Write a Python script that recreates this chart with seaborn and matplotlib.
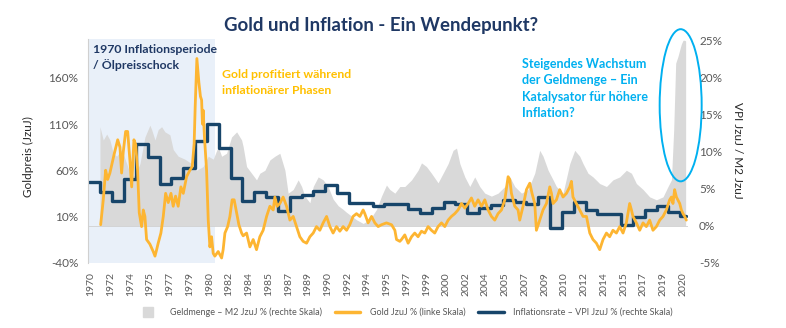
import numpy as np
import pandas as pd
import matplotlib
matplotlib.use("Agg")
import matplotlib.pyplot as plt
from matplotlib.patches import Ellipse
from matplotlib.lines import Line2D
import seaborn as sns

# ---------------- data ----------------
# chart-year positions (x axis units = years as labelled) and YoY values
gold_t = [1970.82, 1971.04, 1971.24, 1971.41, 1971.60, 1971.97, 1972.26, 1972.45, 1972.59, 1972.73,
          1972.93, 1973.10, 1973.29, 1973.44, 1973.63, 1973.78, 1973.94, 1974.08, 1974.28, 1974.42,
          1974.56, 1974.70, 1974.98, 1975.26, 1975.41, 1975.55, 1975.68, 1975.91, 1976.11, 1976.31,
          1976.53, 1976.76, 1976.95, 1977.15, 1977.37, 1977.60, 1977.80, 1978.08, 1978.36, 1978.56,
          1978.72, 1978.81, 1978.95, 1979.12, 1979.25, 1979.35, 1979.42, 1979.48, 1979.59, 1979.77,
          1979.91, 1980.05, 1980.19, 1980.33, 1980.47, 1980.75, 1981.04, 1981.17, 1981.32, 1981.55,
          1981.74, 1981.93, 1982.10, 1982.31, 1982.50, 1982.73, 1982.86, 1983.15, 1983.43, 1983.71,
          1983.99, 1984.27, 1984.55, 1984.84, 1985.12, 1985.40, 1985.54, 1985.73, 1985.96, 1986.24,
          1986.53, 1986.81, 1987.09, 1987.37, 1987.65, 1987.93, 1988.22, 1988.50, 1988.78, 1989.06,
          1989.34, 1989.62, 1989.91, 1990.19, 1990.46, 1990.75, 1991.03, 1991.31, 1991.60, 1991.87,
          1992.15, 1992.44, 1992.72, 1993.00, 1993.14, 1993.42, 1993.71, 1993.99, 1994.27, 1994.55,
          1994.97, 1995.40, 1995.68, 1995.82, 1996.10, 1996.24, 1996.52, 1996.80, 1997.09, 1997.36,
          1997.64, 1997.93, 1998.21, 1998.49, 1998.77, 1999.05, 1999.33, 1999.62, 1999.90, 2000.18,
          2000.46, 2000.74, 2001.02, 2001.31, 2001.59, 2001.87, 2002.15, 2002.43, 2002.71, 2003.00,
          2003.28, 2003.56, 2003.84, 2004.12, 2004.40, 2004.69, 2004.97, 2005.25, 2005.39, 2005.53,
          2005.81, 2006.09, 2006.23, 2006.51, 2006.80, 2007.08, 2007.27, 2007.50, 2007.64, 2007.92,
          2008.20, 2008.49, 2008.77, 2008.91, 2009.05, 2009.33, 2009.61, 2009.89, 2010.18, 2010.46,
          2010.60, 2010.73, 2011.02, 2011.30, 2011.58, 2011.87, 2012.15, 2012.42, 2012.71, 2012.99,
          2013.27, 2013.56, 2013.83, 2014.11, 2014.40, 2014.68, 2014.96, 2015.24, 2015.52, 2015.67,
          2015.80, 2016.09, 2016.37, 2016.65, 2016.93, 2017.21, 2017.49, 2017.78, 2018.06, 2018.34,
          2018.62, 2018.90, 2019.05, 2019.18, 2019.32, 2019.47, 2019.75, 2019.89, 2020.03, 2020.17,
          2020.31]
gold_v = [1, 28, 60, 50, 57, 78, 93, 85, 57, 80,
          102, 102, 71, 42, 93, 88, 60, 14, -1, 17,
          10, -15, -20, -28, -33, -26, -19, -8, 10, 35,
          25, 35, 21, 32, 21, 42, 35, 53, 60, 64,
          89, 130, 181, 155, 140, 136, 110, 125, 96, 60,
          6, -23, -12, -30, -33, -28, -35, -26, -8, -1,
          10, 28, 28, 14, 1, -8, -11, -8, -23, -15,
          -26, -12, -5, 10, 21, 17, 31, 21, 24, 31,
          21, 6, 10, -1, -12, -17, -19, -12, -8, -1,
          -5, 3, 10, -1, -8, -1, -6, -1, -5, 1,
          10, 13, 10, 17, 13, 3, 10, 3, -1, 1,
          3, 1, -5, -15, -17, -15, -10, -19, -12, -8,
          -12, -6, -8, -1, -5, -8, -1, 3, -1, 6,
          10, 13, 17, 24, 19, 24, 30, 21, 28, 21,
          28, 17, 10, 6, 13, 17, 28, 53, 50, 35,
          21, 17, 6, 21, 39, 46, 35, 24, -5, 6,
          17, 24, 42, 35, 24, 28, 39, 31, 35, 42,
          48, 31, 24, 17, 10, 10, -8, -15, -19, -26,
          -15, -8, -12, -5, -8, -1, -8, 3, 24, 17,
          10, 3, -5, 3, -1, 6, -5, -1, 6, 10,
          17, 28, 31, 24, 39, 31, 24, 17, 13, 10,
          6]

m2_t = [1970.76, 1971.04, 1971.33, 1971.60, 1971.88, 1972.17, 1972.59, 1973.02, 1973.29, 1973.72,
        1974.14, 1974.56, 1974.98, 1975.13, 1975.41, 1975.68, 1975.97, 1976.25, 1976.67, 1976.95,
        1977.37, 1977.94, 1978.50, 1978.93, 1979.48, 1979.91, 1980.33, 1980.75, 1981.04, 1981.46,
        1981.88, 1982.31, 1982.73, 1982.86, 1983.15, 1983.57, 1983.99, 1984.27, 1984.70, 1985.12,
        1985.54, 1985.96, 1986.39, 1986.66, 1987.09, 1987.51, 1987.80, 1988.07, 1988.50, 1988.78,
        1989.20, 1989.62, 1990.04, 1990.46, 1990.89, 1991.31, 1991.60, 1992.02, 1992.44, 1993.00,
        1993.56, 1994.13, 1994.55, 1994.97, 1995.25, 1995.68, 1996.10, 1996.52, 1997.09, 1997.64,
        1997.93, 1998.35, 1998.77, 1999.33, 1999.76, 2000.18, 2000.60, 2000.89, 2001.17, 2001.59,
        2002.01, 2002.43, 2002.85, 2003.28, 2003.84, 2004.40, 2004.97, 2005.39, 2005.81, 2006.38,
        2006.94, 2007.50, 2007.92, 2008.20, 2008.63, 2009.05, 2009.33, 2009.89, 2010.46, 2010.88,
        2011.30, 2011.58, 2012.00, 2012.42, 2012.99, 2013.56, 2014.11, 2014.68, 2015.24, 2015.67,
        2016.09, 2016.65, 2017.21, 2017.78, 2018.34, 2018.76, 2019.05, 2019.24, 2019.41, 2019.60,
        2019.75, 2019.89, 2020.03, 2020.17, 2020.25]
m2_v = [13.4, 11.6, 12.4, 11.6, 9.8, 9.4, 10.3, 8.4, 7.1, 6.7,
        8.4, 12.0, 13.6, 13.0, 11.6, 13.0, 13.4, 12.7, 12.3, 10.3,
        9.4, 9.0, 8.4, 7.5, 8.0, 9.4, 9.0, 10.7, 9.4, 9.8,
        12.0, 12.7, 11.6, 10.7, 8.0, 7.1, 6.2, 7.1, 7.5, 8.9,
        9.4, 9.8, 7.5, 4.4, 4.9, 6.2, 5.3, 4.0, 3.1, 5.3,
        6.6, 6.2, 5.3, 3.6, 2.7, 2.2, 1.8, 1.3, 0.8, 0.3,
        0.8, 2.2, 4.0, 5.5, 4.9, 4.4, 5.3, 5.3, 6.2, 7.5,
        8.5, 8.0, 7.1, 5.8, 7.1, 8.4, 10.2, 10.5, 8.4, 6.6,
        5.3, 6.6, 5.3, 4.4, 4.0, 4.4, 5.3, 6.6, 5.3, 4.4,
        4.9, 7.1, 10.2, 9.4, 7.5, 6.2, 5.3, 4.4, 8.4, 10.2,
        9.4, 8.4, 7.1, 6.6, 5.7, 5.3, 6.2, 6.6, 7.5, 7.1,
        5.7, 4.9, 3.9, 3.5, 3.9, 5.3, 6.2, 12.9, 22.0, 22.9,
        23.8, 24.6, 25.1, 25.1, 25.0]

cpi_year = list(range(1970, 2021))
cpi_v = [5.9, 4.5, 3.3, 6.3, 11.1, 9.3, 5.7, 6.5, 7.8, 11.5,
         13.8, 10.5, 6.4, 3.3, 4.5, 3.85, 2.0, 3.85, 4.15, 4.7,
         5.5, 4.4, 3.1, 3.1, 2.7, 2.9, 2.9, 2.3, 1.7, 2.35,
         3.25, 2.95, 1.7, 2.35, 2.8, 3.5, 3.25, 2.95, 3.9, -0.3,
         1.9, 3.25, 2.1, 1.6, 1.6, 0.1, 1.15, 2.1, 2.6, 1.9,
         1.3]
cpi_end = 2020.3

tick_labels = ["1970", "1972", "1974", "1975", "1977", "1979", "1980", "1982", "1984", "1985",
               "1987", "1989", "1990", "1992", "1994", "1995", "1997", "1999", "2000", "2002",
               "2004", "2005", "2007", "2009", "2010", "2012", "2014", "2015", "2017", "2019",
               "2020"]
left_ticks = [-40, 10, 60, 110, 160]
right_ticks = [-5, 0, 5, 10, 15, 20, 25]

# ---------------- styling ----------------
sns.set_theme(style="white")
plt.rcParams["font.family"] = ["Lato", "DejaVu Sans"]

NAVY = "#17456a"
GOLD = "#fdb532"
GREY = "#d9d9d9"
CYAN = "#00b0f0"
TXT = "#595959"
TITLE = "#1f3864"

W, H = 786, 328
fig = plt.figure(figsize=(W / 100, H / 100), dpi=100)
ax = fig.add_axes([88 / W, 1 - 262.6 / H, 600 / W, (262.6 - 39.3) / H])
axr = ax.twinx()
ax.set_zorder(axr.get_zorder() + 1)
ax.patch.set_visible(False)

x0, x1 = 1969.75, 2020.45
ax.set_xlim(x0, x1)
ax.set_ylim(-40, 201.8)
axr.set_ylim(-5, 25.23)

# shaded 1970s period
axr.axvspan(x0, 1980.47, color="#e9f0f9", zorder=0, lw=0)

# M2 area (right axis)
m2 = pd.DataFrame({"t": m2_t, "v": m2_v})
axr.fill_between(m2["t"], 0, m2["v"], color=GREY, lw=0, zorder=1)
axr.axhline(0, color="#d0d0d0", lw=0.6, zorder=1)

# CPI step line (right axis)
cpi = pd.DataFrame({"t": [y - 0.2 for y in cpi_year] + [cpi_end],
                    "v": cpi_v + [cpi_v[-1]]})
sns.lineplot(data=cpi, x="t", y="v", ax=axr, color=NAVY, lw=2.4,
             drawstyle="steps-post", zorder=3)

# Gold line (left axis)
gold = pd.DataFrame({"t": gold_t, "v": gold_v})
sns.lineplot(data=gold, x="t", y="v", ax=ax, color=GOLD, lw=2.0, zorder=2)

# ticks
ticks = [1970 + k * 5 / 3 for k in range(len(tick_labels))]
ax.set_xticks(ticks)
ax.set_xticklabels(tick_labels, rotation=90, fontsize=7.5, color=TXT)
ax.set_yticks(left_ticks)
ax.set_yticklabels([f"{v}%" for v in left_ticks], fontsize=8.5, color=TXT)
axr.set_yticks(right_ticks)
axr.set_yticklabels([f"{v}%" for v in right_ticks], fontsize=8.5, color=TXT)
ax.tick_params(axis="both", length=0, pad=7)
axr.tick_params(axis="y", length=0, pad=8)
ax.set_xlabel("")
ax.set_ylabel("")
axr.set_ylabel("")
for a in (ax, axr):
    for s in a.spines.values():
        s.set_visible(False)
ax.spines["left"].set_visible(True)
ax.spines["left"].set_color("#d0d0d0")
ax.spines["left"].set_linewidth(0.8)

# ellipse highlight
ell = Ellipse((2019.83, 16.3), width=3.55, height=20.6, fill=False,
              edgecolor=CYAN, lw=1.4, clip_on=False, zorder=5)
axr.add_patch(ell)

# texts
def ftext(x, y, s, **kw):
    fig.text(x / W, 1 - y / H, s, **kw)

ftext(381, 25, "Gold und Inflation - Ein Wendepunkt?", ha="center", va="center",
      fontsize=13.4, fontweight="bold", color=TITLE)
ftext(93, 57.5, "1970 Inflationsperiode\n/ Ölpreisschock", ha="left", va="center",
      fontsize=8.8, fontweight="bold", color=TITLE, linespacing=1.45)
ftext(222, 82.5, "Gold profitiert während\ninflationärer Phasen", ha="left", va="center",
      fontsize=8.8, fontweight="bold", color="#ffc000", linespacing=1.5)
ftext(522, 88.5, "Steigendes Wachstum\nder Geldmenge – Ein\nKatalysator für höhere\nInflation?",
      ha="left", va="center", fontsize=9.0, fontweight="bold", color=CYAN, linespacing=1.45)
ftext(28, 157, "Goldpreis (JzuJ)", ha="center", va="center", rotation=90,
      fontsize=8.5, color="#262626")
ftext(737, 150, "VPI JzuJ / M2 JzuJ", ha="center", va="center", rotation=270,
      fontsize=8.5, color="#262626")

handles = [Line2D([], [], color=GREY, marker="s", markersize=7, lw=0),
           Line2D([], [], color=GOLD, lw=2.5),
           Line2D([], [], color=NAVY, lw=2.5)]
labels = ["Geldmenge – M2 JzuJ % (rechte Skala)", "Gold JzuJ % (linke Skala)",
          "Inflationsrate – VPI JzuJ % (rechte Skala)"]
fig.legend(handles, labels, loc="center", bbox_to_anchor=(404 / W, 1 - 312 / H), ncol=3,
           frameon=False, fontsize=6.5, labelcolor=TXT, handlelength=2.8,
           columnspacing=1.4, handletextpad=1.1)

fig.savefig("out.png", dpi=100)
